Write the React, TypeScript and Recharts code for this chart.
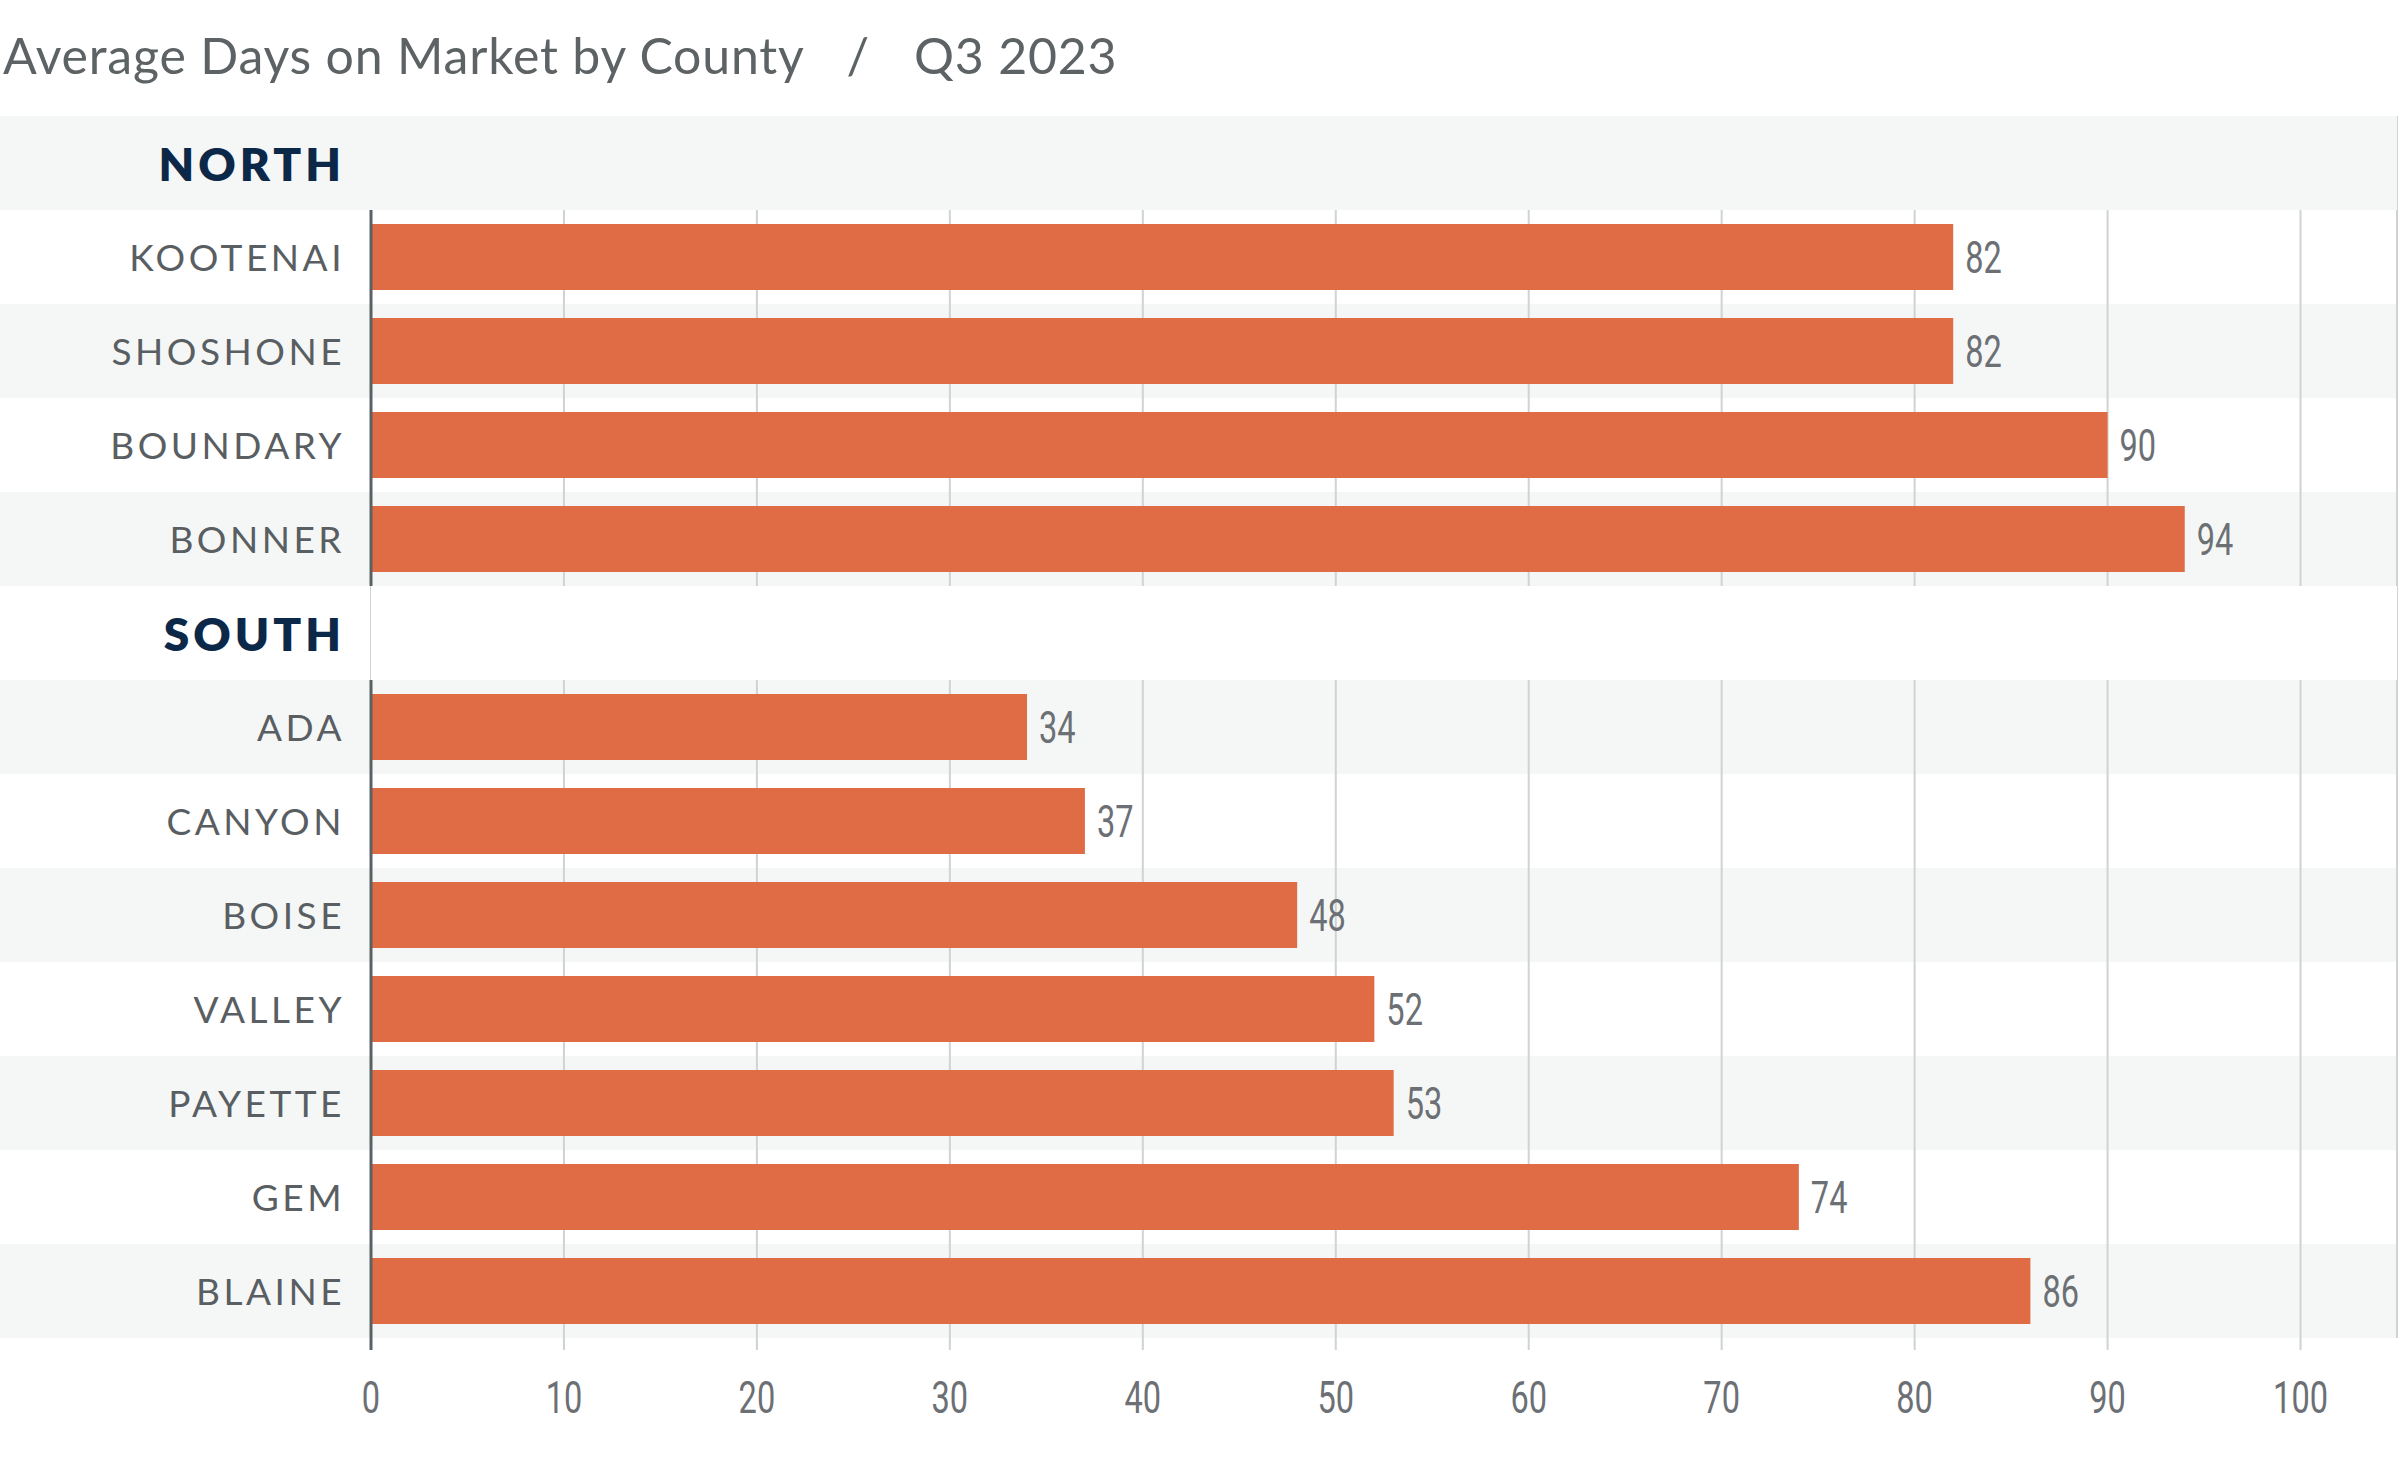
import { Bar, BarChart, CartesianGrid, LabelList, ReferenceArea, XAxis, YAxis } from "recharts";

const NORTH_COUNTIES = ["KOOTENAI", "SHOSHONE", "BOUNDARY", "BONNER"];
const NORTH_DAYS = [82, 82, 90, 94];
const SOUTH_COUNTIES = ["ADA", "CANYON", "BOISE", "VALLEY", "PAYETTE", "GEM", "BLAINE"];
const SOUTH_DAYS = [34, 37, 48, 52, 53, 74, 86];
const REGIONS = ["NORTH", "SOUTH"];
const X_TICKS = [0, 10, 20, 30, 40, 50, 60, 70, 80, 90, 100];

const rows = [
  { name: REGIONS[0], days: null as number | null },
  ...NORTH_COUNTIES.map((name, i) => ({ name, days: NORTH_DAYS[i] })),
  { name: REGIONS[1], days: null as number | null },
  ...SOUTH_COUNTIES.map((name, i) => ({ name, days: SOUTH_DAYS[i] })),
];

const W = 2400;
const H = 1459;
const TOP = 116;
const X_AXIS_H = 121;
const Y_AXIS_W = 371;
const BAND = (H - TOP - X_AXIS_H) / rows.length;

const STRIPE = "#f5f7f6";
const BAR = "#df6c45";
const GRID = "#d0d3d3";
const AXIS = "#5b6064";
const LABEL = "#595e62";
const NUM = "#6c7074";
const NAVY = "#0c2848";
const SANS = "Lato, 'Open Sans', sans-serif";
const NARROW = "Roboto, sans-serif";
const SQUEEZE = 0.74; // fake condensed digits

function CountyTick(props: any) {
  const { x, y, payload, index } = props;
  const isRegion = REGIONS.includes(payload.value);
  return (
    <g>
      {index % 2 === 0 && <rect x={0} y={y - BAND / 2} width={x} height={BAND} fill={STRIPE} />}
      {!isRegion && (
        <line x1={x} x2={x} y1={y - BAND / 2} y2={y + BAND / 2} stroke={AXIS} strokeWidth={3} />
      )}
      {isRegion ? (
        <text x={x - 26} y={y + 18} textAnchor="end" fill={NAVY} fontFamily={SANS} fontWeight={800} fontSize={46} letterSpacing={4}>
          {payload.value}
        </text>
      ) : (
        <text x={x - 26} y={y + 14} textAnchor="end" fill={LABEL} fontFamily={SANS} fontSize={37} letterSpacing={3.5}>
          {payload.value}
        </text>
      )}
    </g>
  );
}

function DayTick(props: any) {
  const { x, y, payload } = props;
  return (
    <g>
      {payload.value === 0 && <line x1={x} x2={x} y1={y - 12} y2={y} stroke={AXIS} strokeWidth={3} />}
      <text
        transform={`translate(${x}, ${y + 63}) scale(${SQUEEZE}, 1)`}
        textAnchor="middle"
        fill={NUM}
        fontFamily={NARROW}
        fontSize={44}
      >
        {payload.value}
      </text>
    </g>
  );
}

function ValueLabel(props: any) {
  const { x, y, width, height, value } = props;
  if (value == null) return null;
  return (
    <text
      transform={`translate(${x + width + 12}, ${y + height / 2 + 16}) scale(${SQUEEZE}, 1)`}
      fill={NUM}
      fontFamily={NARROW}
      fontSize={44}
    >
      {value}
    </text>
  );
}

// band edges for the alternating row stripes, starting at the plot top
const stripeLines = rows.map((_, i) => TOP + i * BAND);

export default function App() {
  return (
    <div style={{ position: "absolute", left: 0, top: 0, width: W, height: H, background: "#fff" }}>
      <BarChart
        width={W}
        height={H}
        data={rows}
        layout="vertical"
        margin={{ top: TOP, right: 3, bottom: 0, left: 0 }}
        barCategoryGap={0}
      >
        <CartesianGrid
          vertical={false}
          horizontalPoints={stripeLines}
          horizontalFill={[STRIPE, "#ffffff"]}
          stroke="none"
        />
        <CartesianGrid horizontal={false} stroke={GRID} strokeWidth={2} />
        <ReferenceArea y1={REGIONS[0]} y2={REGIONS[0]} fill={STRIPE} fillOpacity={1} stroke="none" />
        <ReferenceArea y1={REGIONS[1]} y2={REGIONS[1]} fill="#ffffff" fillOpacity={1} stroke="none" />
        <XAxis
          type="number"
          domain={[0, 105]}
          ticks={X_TICKS}
          height={X_AXIS_H}
          axisLine={false}
          tickLine={{ stroke: GRID, strokeWidth: 2 }}
          tickSize={12}
          tickMargin={0}
          tick={<DayTick />}
          interval={0}
        />
        <YAxis
          type="category"
          dataKey="name"
          width={Y_AXIS_W}
          axisLine={false}
          tickLine={false}
          tickSize={0}
          tickMargin={0}
          tick={<CountyTick />}
          interval={0}
        />
        <Bar dataKey="days" fill={BAR} barSize={66} isAnimationActive={false}>
          <LabelList dataKey="days" content={<ValueLabel />} />
        </Bar>
      </BarChart>
      <div
        style={{
          position: "absolute",
          left: 3,
          top: 30,
          fontFamily: SANS,
          fontSize: 50,
          letterSpacing: 0.8,
          lineHeight: 1,
          color: "#5d6265",
          whiteSpace: "nowrap",
        }}
      >
        <span>Average Days on Market by County</span>
        <span style={{ marginLeft: 42 }}>/</span>
        <span style={{ marginLeft: 44 }}>Q3 2023</span>
      </div>
    </div>
  );
}
